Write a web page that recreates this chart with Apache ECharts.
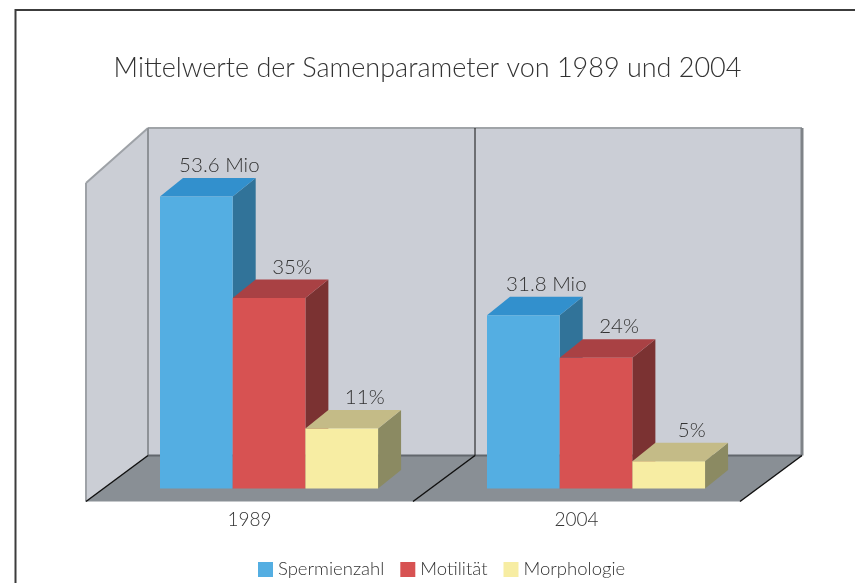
<!DOCTYPE html>
<html>
<head>
<meta charset="utf-8">
<script src="https://cdn.jsdelivr.net/npm/echarts@6/dist/echarts.min.js"></script>
<style>
  html, body { margin: 0; padding: 0; background: #fff; }
  #main { width: 855px; height: 583px; }
</style>
</head>
<body>
<div id="main"></div>
<script>
// Daten
var jahre = ['1989', '2004'];
var spermienzahl = [53.6, 31.8];
var motilitaet = [35, 24];
var morphologie = [11, 5];
var einheiten = [' Mio', '%', '%'];
var serienNamen = ['Spermienzahl', 'Motilität', 'Morphologie'];

// Farben: Vorderseite, Oberseite, Seite
var farben = [
  ['#54aee2', '#3290cd', '#317399'],
  ['#d75252', '#a94144', '#7b3232'],
  ['#f7eda3', '#c4bb87', '#8b8a62']
];

var FONT = 'Lato';
var BAR_W = 0.2223;    // Anteil der Kategoriebreite
var BAR_OFF = -0.2737; // Start relativ zur Kategoriemitte
var BDX = 23, BDY = 18.5;   // Tiefe der Balken
var WDX = 62, WDY = 46;     // Tiefe von Boden/Wand
var AXIS_OFF = 13;

function balken(si) {
  return function (params, api) {
    var ci = api.value(0), v = api.value(1);
    var base = api.coord([ci, 0]);
    var top = api.coord([ci, v]);
    var band = api.size([1, 0])[0];
    var w = band * BAR_W;
    var x0 = base[0] + band * BAR_OFF + si * w;
    var yb = base[1], yt = top[1];
    var c = farben[si];
    return {
      type: 'group',
      children: [
        { type: 'polygon', shape: { points: [[x0 + w, yt], [x0 + w + BDX, yt - BDY], [x0 + w + BDX, yb - BDY], [x0 + w, yb]] }, style: { fill: c[2] } },
        { type: 'polygon', shape: { points: [[x0, yt], [x0 + BDX, yt - BDY], [x0 + w + BDX, yt - BDY], [x0 + w, yt]] }, style: { fill: c[1] } },
        { type: 'rect', shape: { x: x0, y: yt, width: w, height: yb - yt }, style: { fill: c[0] } },
        { type: 'text', x: x0 + w / 2 + BDX, y: yt - BDY - 2,
          style: { text: String(v) + einheiten[si], fill: '#333', font: '300 20.5px ' + FONT, align: 'center', verticalAlign: 'bottom' } }
      ]
    };
  };
}

function waende(params, api) {
  var cs = params.coordSys;
  var band = api.size([1, 0])[0];
  var xL = cs.x, xR = cs.x + cs.width;
  var xM = api.coord([0, 0])[0] + band / 2;
  var yF = api.coord([0, 0])[1] + AXIS_OFF;
  var yB = yF - WDY;
  var yT = cs.y;
  var line = function (x1, y1, x2, y2, col, lw) {
    return { type: 'line', shape: { x1: x1, y1: y1, x2: x2, y2: y2 }, style: { stroke: col, lineWidth: lw } };
  };
  return {
    type: 'group',
    children: [
      { type: 'polygon', shape: { points: [[xL, yF], [xL, yT + 55], [xL + WDX, yT], [xL + WDX, yB]] }, style: { fill: '#cbced5' } },
      { type: 'rect', shape: { x: xL + WDX, y: yT, width: xR - xL, height: yB - yT }, style: { fill: '#cbced6' } },
      { type: 'polygon', shape: { points: [[xL, yF], [xR, yF], [xR + WDX, yB], [xL + WDX, yB]] }, style: { fill: '#898f95' } },
      line(xL, yT + 55, xL + WDX, yT, '#9ea2a7', 2),
      line(xL + WDX, yT, xR + WDX, yT, '#a0a4a8', 2),
      line(xL, yT + 55, xL, yF, '#9ea2a7', 2),
      line(xL + WDX, yT, xL + WDX, yB, '#8e9297', 2),
      line(xR + WDX, yT, xR + WDX, yB, '#7f8388', 3),
      line(xL + WDX, yB, xR + WDX, yB, '#62676d', 2),
      line(xM + WDX, yT, xM + WDX, yB, '#111', 1),
      line(xL, yF, xL + WDX, yB, '#111', 1.5),
      line(xM, yF, xM + WDX, yB, '#111', 1.5),
      line(xR, yF, xR + WDX, yB, '#111', 1.5)
    ]
  };
}

var werte = [spermienzahl, motilitaet, morphologie];
var series = [{
  type: 'custom', name: 'waende', silent: true,
  renderItem: waende, data: [[0, 0]], z: 1
}];
serienNamen.forEach(function (n, si) {
  series.push({
    type: 'custom', name: n, z: 2 + si,
    itemStyle: { color: farben[si][0] },
    renderItem: balken(si),
    data: werte[si].map(function (v, i) { return [i, v]; })
  });
});

var chart = echarts.init(document.getElementById('main'));
chart.setOption({
  animation: false,
  title: {
    text: 'Mittelwerte der Samenparameter von 1989 und 2004',
    left: 'center', top: 50,
    textStyle: { fontFamily: FONT, fontWeight: 300, fontSize: 27, color: '#333' }
  },
  legend: {
    data: serienNamen, left: 253, top: 555,
    itemWidth: 15, itemHeight: 15, itemGap: 16, icon: 'rect',
    textStyle: { fontFamily: FONT, fontWeight: 300, fontSize: 18.5, color: '#333' }
  },
  grid: { left: 86, right: 115, top: 128, bottom: 94.5 },
  xAxis: {
    type: 'category', data: jahre, offset: AXIS_OFF,
    axisLine: { lineStyle: { color: '#111', width: 1.5 } },
    axisTick: { length: 7, lineStyle: { color: '#777', width: 1.5 } },
    axisLabel: { margin: 9, fontFamily: FONT, fontWeight: 300, fontSize: 19, color: '#333' }
  },
  yAxis: { type: 'value', min: 0, max: 66.2, show: false, splitLine: { show: false } },
  graphic: [
    { type: 'line', shape: { x1: 15, y1: 10, x2: 855, y2: 10 }, style: { stroke: '#3c3c3c', lineWidth: 2 } },
    { type: 'line', shape: { x1: 15.5, y1: 9, x2: 15.5, y2: 583 }, style: { stroke: '#3c3c3c', lineWidth: 2 } }
  ],
  series: series
});
</script>
</body>
</html>
